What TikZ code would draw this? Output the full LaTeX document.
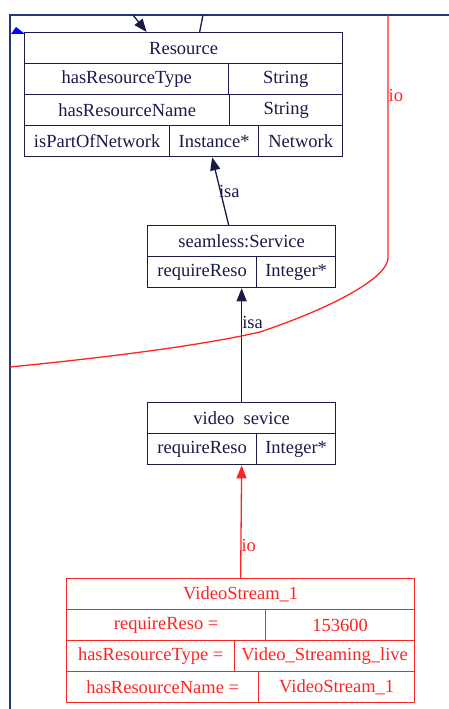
\documentclass[tikz,border=0pt]{standalone}
\usepackage{fontspec}
\setmainfont{Liberation Serif}
\usetikzlibrary{arrows.meta,positioning,calc}
\definecolor{navy}{HTML}{1A1A48}
\definecolor{frameblue}{HTML}{1F3A72}
\definecolor{ioRed}{HTML}{FF2424}

\begin{document}
\begin{tikzpicture}[x=1pt,y=-1pt,
  cell/.style={draw=navy,line width=1.3pt,anchor=north west,inner sep=0pt,
    minimum height=31pt,text=navy,font=\fontsize{18.5}{20}\selectfont},
  icell/.style={cell,draw=ioRed,text=ioRed},
  lbl/.style={font=\fontsize{18.5}{20}\selectfont,inner sep=0pt,anchor=west},
  isaedge/.style={draw=navy,line width=1.3pt,-{Triangle[length=13pt,width=10pt]}},
  ioedge/.style={draw=ioRed,line width=1.3pt,-{Triangle[length=13pt,width=10pt]}}]
\useasboundingbox[fill=white] (0,0) rectangle (449,709);

% frame of the cluster
\draw[frameblue,line width=2pt] (449,15) -- (10,15) -- (10,709);
\fill[blue] (11,34) -- (25,34) -- (16,27) -- cycle;

% Resource
\node[cell,minimum width=318pt] (res) at (24,32) {Resource};
\node[cell,minimum width=204pt] (rtype) at (24,63) {hasResourceType};
\node[cell,minimum width=114pt] (rtypeV) at (228,63) {String};
\node[cell,minimum width=205pt] (rname) at (24,94) {hasResourceName};
\node[cell,minimum width=113pt] (rnameV) at (229,94) {String};
\node[cell,minimum width=145pt] (rnet) at (24,125) {isPartOfNetwork};
\node[cell,minimum width=89pt] (rinst) at (169,125) {Instance*};
\node[cell,minimum width=84pt] (rnetV) at (258,125) {Network};

% seamless:Service
\node[cell,minimum width=188pt] (ser) at (147,225) {seamless:Service};
\node[cell,minimum width=109pt] (serReq) at (147,256) {requireReso};
\node[cell,minimum width=79pt] (serInt) at (256,256) {Integer*};

% video sevice
\node[cell,minimum width=188pt] (vid) at (147,402) {video\ \ sevice};
\node[cell,minimum width=109pt] (vidReq) at (147,433) {requireReso};
\node[cell,minimum width=79pt] (vidInt) at (256,433) {Integer*};

% instance
\node[icell,minimum width=348pt] (vs) at (66,578) {VideoStream\_1};
\node[icell,minimum width=199pt] (vsReq) at (66,609) {requireReso =};
\node[icell,minimum width=149pt] (vsReqV) at (265,609) {153600};
\node[icell,minimum width=168pt] (vsType) at (66,640) {hasResourceType =};
\node[icell,minimum width=180pt] (vsTypeV) at (234,640) {Video\_Streaming\_live};
\node[icell,minimum width=192pt] (vsName) at (66,671) {hasResourceName =};
\node[icell,minimum width=156pt] (vsNameV) at (258,671) {VideoStream\_1};

% edges
\coordinate (inA) at (133,15);
\coordinate (inB) at (203,15);
\draw[isaedge] (inA) -- ([xshift=-37pt]res.north);
\draw[navy,line width=1.3pt] (inB) -- ([xshift=16pt]res.north);
\draw[isaedge] ([xshift=-13pt]ser.north) -- node[lbl,text=navy,pos=0.5,xshift=-2pt] {isa} ([xshift=-2pt]rinst.south);
\draw[isaedge] (vid.north) -- node[lbl,text=navy,pos=0.7] {isa} (ser.south |- serReq.south);
\draw[ioedge] (vs.north) -- node[lbl,text=ioRed,pos=0.29] {io} (vid.south |- vidReq.south);

\coordinate (ioTop) at (388,15);
\coordinate (ioEnd) at (10,367);
\draw[ioRed,line width=1.3pt] (ioTop) -- node[lbl,text=ioRed,pos=0.33] {io} (388,258)
  .. controls (388,276) and (340,305) .. (260,332)
  .. controls (190,348) and (80,360) .. (ioEnd);
\end{tikzpicture}
\end{document}
